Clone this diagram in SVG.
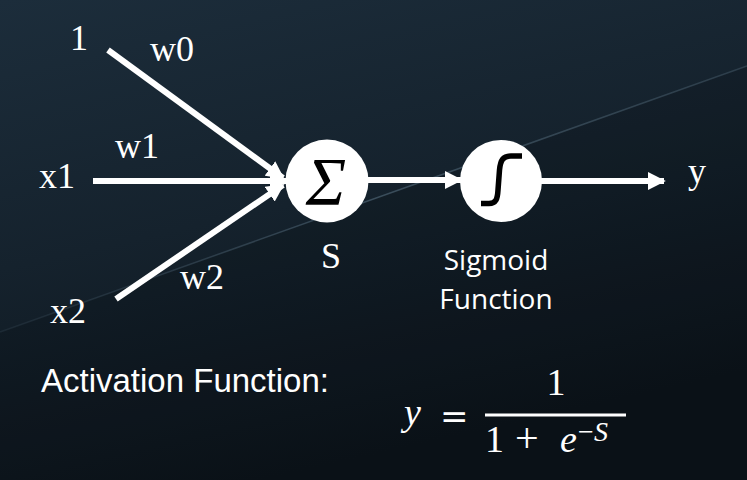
<svg xmlns="http://www.w3.org/2000/svg" width="747" height="480" viewBox="0 0 747 480">
  <defs>
    <linearGradient id="bg" x1="0" y1="0" x2="0.35" y2="1">
      <stop offset="0" stop-color="#1c2d3b"/>
      <stop offset="0.5" stop-color="#15222d"/>
      <stop offset="1" stop-color="#0c141b"/>
    </linearGradient>
    <linearGradient id="shine" x1="0" y1="0" x2="1" y2="0">
      <stop offset="0" stop-color="#4a6070" stop-opacity="0.2"/>
      <stop offset="0.5" stop-color="#5a7384" stop-opacity="0.55"/>
      <stop offset="1" stop-color="#5a7384" stop-opacity="0.35"/>
    </linearGradient>
    <marker id="ah" viewBox="0 0 10 10" refX="9" refY="5" markerWidth="3" markerHeight="3" orient="auto" markerUnits="strokeWidth">
      <path d="M0,0 L10,5 L0,10 Z" fill="#ffffff"/>
    </marker>
    <style>
      .lbl { font-family: "Liberation Serif", "Times New Roman", serif; font-size: 36px; fill: #ffffff; }
      .sans { font-family: "Open Sans", "Liberation Sans", sans-serif; font-size: 28px; fill: #ffffff; }
      .math { font-family: "Liberation Serif", "DejaVu Serif", serif; fill: #ffffff; }
      .op { font-family: "DejaVu Serif", serif; fill: #ffffff; }
      .conn { stroke: #ffffff; stroke-width: 6; fill: none; }
      .node { fill: #ffffff; }
    </style>
  </defs>

  <rect x="0" y="0" width="747" height="480" fill="url(#bg)"/>
  <path d="M0,332 L747,66 L747,480 L0,480 Z" fill="#000000" fill-opacity="0.12"/>
  <path d="M0,332 L747,66" stroke="url(#shine)" stroke-width="1.5" fill="none"/>

  <g id="connectors">
    <line class="conn" x1="108" y1="50" x2="283" y2="178" marker-end="url(#ah)"/>
    <line class="conn" x1="93" y1="181" x2="286" y2="181" marker-end="url(#ah)"/>
    <line class="conn" x1="116" y1="299" x2="283" y2="185" marker-end="url(#ah)"/>
    <line class="conn" x1="368" y1="180" x2="461" y2="180" marker-end="url(#ah)"/>
    <line class="conn" x1="541" y1="181" x2="664" y2="181" marker-end="url(#ah)"/>
  </g>

  <g id="input-bias">
    <text class="lbl" x="70" y="50">1</text>
  </g>
  <g id="input-x1">
    <text class="lbl" x="39" y="188">x1</text>
  </g>
  <g id="input-x2">
    <text class="lbl" x="50" y="323">x2</text>
  </g>
  <g id="weights">
    <text class="lbl" x="150" y="61">w0</text>
    <text class="lbl" x="115" y="158">w1</text>
    <text class="lbl" x="180" y="289">w2</text>
  </g>

  <g id="sum-node">
    <circle class="node" cx="327" cy="181" r="41.5"/>
    <text x="326" y="204" text-anchor="middle" font-family="Liberation Serif, serif" font-style="italic" font-size="68" fill="#000000">Σ</text>
    <text class="lbl" x="331" y="268" text-anchor="middle">S</text>
  </g>

  <g id="sigmoid-node">
    <circle class="node" cx="501" cy="181" r="41"/>
    <path d="M481,203.5 L489,203.5 C496,203.5 497.5,199 498,190 L499.5,170 C500.5,160 503,156 511,156 L522,156" fill="none" stroke="#000000" stroke-width="5.5"/>
    <text class="sans" x="496" y="270" text-anchor="middle">Sigmoid</text>
    <text class="sans" x="496" y="309" text-anchor="middle">Function</text>
  </g>

  <g id="output-y">
    <text class="lbl" x="688" y="183">y</text>
  </g>

  <g id="activation">
    <text x="41" y="392" font-family="Liberation Sans, Arial, sans-serif" font-size="33" fill="#ffffff">Activation Function:</text>
  </g>

  <g id="formula">
    <text class="math" x="404" y="425" font-size="38" font-style="italic">y</text>
    <text class="op" x="440" y="428" font-size="34">=</text>
    <rect x="485" y="413.5" width="141" height="3" fill="#ffffff"/>
    <text class="math" x="556" y="395" font-size="38" text-anchor="middle">1</text>
    <text class="math" x="485" y="452" font-size="38">1</text>
    <text class="math" x="515" y="452" font-size="42">+</text>
    <text class="math" x="560" y="452" font-size="38" font-style="italic">e</text>
    <text class="math" x="578" y="441" font-size="28">−</text>
    <text class="math" x="594" y="441" font-size="28" font-style="italic">S</text>
  </g>
</svg>
